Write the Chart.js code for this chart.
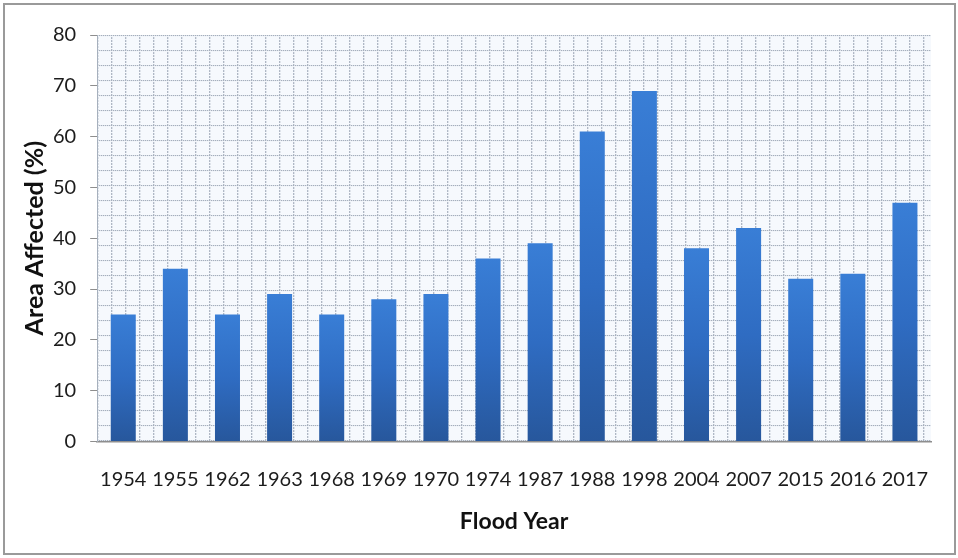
<!DOCTYPE html>
<html>
<head>
<meta charset="utf-8">
<script src="https://cdn.jsdelivr.net/npm/chart.js@4/dist/chart.umd.min.js"></script>
<style>
  html, body { margin: 0; padding: 0; background: #ffffff; }
  #wrap { position: relative; width: 958px; height: 558px; }
  #frame { position: absolute; left: 3px; top: 3px; width: 949px; height: 548px; border: 2px solid #9a9a9a; pointer-events: none; }
  canvas { position: absolute; left: 0; top: 0; }
</style>
</head>
<body>
<div id="wrap">
  <canvas id="chart" width="958" height="558"></canvas>
  <div id="frame"></div>
</div>
<script>
// Flood years and the share of area affected in each
const years = ['1954', '1955', '1962', '1963', '1968', '1969', '1970', '1974',
               '1987', '1988', '1998', '2004', '2007', '2015', '2016', '2017'];
const areaAffected = [25, 34, 25, 29, 25, 28, 29, 36, 39, 61, 69, 38, 42, 32, 33, 47];
const yTicks = [0, 10, 20, 30, 40, 50, 60, 70, 80];

const FONT = 'Lato, "Open Sans", "Noto Sans", sans-serif';

// Dotted grid texture that fills the plot area
function makeGridPattern(ctx) {
  const tile = document.createElement('canvas');
  tile.width = 14; tile.height = 15;
  const t = tile.getContext('2d');
  t.fillStyle = '#f6f9fd';
  t.fillRect(0, 0, 14, 15);
  t.fillStyle = 'rgba(112,126,146,0.8)';
  for (let x = 0; x < 14; x += 2) t.fillRect(x, 0, 1, 1);
  t.fillStyle = 'rgba(112,126,146,0.7)';
  for (let y = 2; y < 15; y += 3) t.fillRect(0, y, 1, 2);
  return ctx.createPattern(tile, 'repeat');
}

const plotTexture = {
  id: 'plotTexture',
  beforeDraw(chart) {
    const { ctx, chartArea: a } = chart;
    ctx.save();
    const pat = makeGridPattern(ctx);
    ctx.translate(a.left, a.top);
    ctx.fillStyle = pat;
    ctx.fillRect(0, 0, a.right - a.left, a.bottom - a.top);
    ctx.restore();
  }
};

// Each bar shades from a lighter blue at its top to a deeper blue at its base
function barGradient(context) {
  const chart = context.chart;
  if (!chart.chartArea) return '#3370c4';
  const v = context.parsed ? context.parsed.y : areaAffected[context.dataIndex];
  const yScale = chart.scales.y;
  const top = yScale.getPixelForValue(v);
  const base = yScale.getPixelForValue(0);
  const g = chart.ctx.createLinearGradient(0, top, 0, base);
  g.addColorStop(0, '#397ed6');
  g.addColorStop(0.5, '#2f6cc2');
  g.addColorStop(1, '#27579c');
  return g;
}

new Chart(document.getElementById('chart'), {
  type: 'bar',
  data: {
    labels: years,
    datasets: [{
      data: areaAffected,
      backgroundColor: barGradient,
      borderWidth: 0,
      categoryPercentage: 1.0,
      barPercentage: 0.48
    }]
  },
  options: {
    responsive: false,
    animation: false,
    layout: { padding: { left: 20, right: 27, top: 35, bottom: 21 } },
    plugins: { legend: { display: false }, tooltip: { enabled: false } },
    scales: {
      x: {
        grid: { display: false, drawTicks: false },
        border: { display: true, color: '#8e8e8e', width: 1.5 },
        ticks: { color: '#1c1c1c', font: { family: FONT, size: 20 }, padding: 26, maxRotation: 0, autoSkip: false },
        title: { display: true, text: 'Flood Year', color: '#111111', font: { family: FONT, size: 23, weight: 'bold' }, padding: { top: -10, bottom: 2 } }
      },
      y: {
        min: 0,
        max: 80,
        afterBuildTicks(scale) { scale.ticks = yTicks.map(v => ({ value: v })); },
        grid: { drawOnChartArea: false, drawTicks: true, tickLength: 7, color: '#8e8e8e' },
        border: { display: true, color: '#a6b0bd', width: 1 },
        ticks: { color: '#1c1c1c', font: { family: FONT, size: 20 }, padding: 14 },
        title: { display: true, text: 'Area Affected (%)', color: '#111111', font: { family: FONT, size: 25, weight: 'bold' }, padding: { top: 0, bottom: -11 } }
      }
    }
  },
  plugins: [plotTexture]
});
</script>
</body>
</html>
